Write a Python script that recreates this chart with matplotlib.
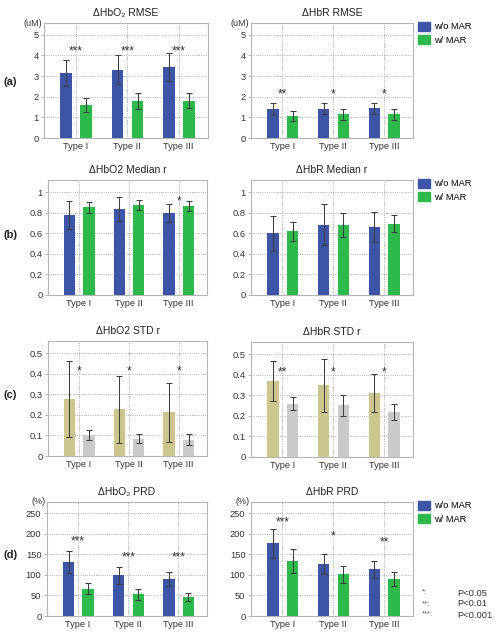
import numpy as np
import matplotlib
matplotlib.use("Agg")
import matplotlib.pyplot as plt
from matplotlib.patches import Patch

plt.rcParams['font.family'] = ['Liberation Sans', 'DejaVu Sans']

# data
types = ["Type I", "Type II", "Type III"]

hbo2_rmse_wo = [3.15, 3.30, 3.42]
hbo2_rmse_wo_err = [0.64, 0.70, 0.68]
hbo2_rmse_w = [1.60, 1.80, 1.80]
hbo2_rmse_w_err = [0.32, 0.40, 0.37]
hbr_rmse_wo = [1.40, 1.41, 1.44]
hbr_rmse_wo_err = [0.30, 0.27, 0.27]
hbr_rmse_w = [1.06, 1.14, 1.14]
hbr_rmse_w_err = [0.26, 0.25, 0.25]

hbo2_medr_wo = [0.78, 0.837, 0.80]
hbo2_medr_wo_err = [0.14, 0.115, 0.09]
hbo2_medr_w = [0.853, 0.873, 0.87]
hbo2_medr_w_err = [0.05, 0.05, 0.05]
hbr_medr_wo = [0.60, 0.684, 0.665]
hbr_medr_wo_err = [0.17, 0.20, 0.145]
hbr_medr_w = [0.62, 0.68, 0.694]
hbr_medr_w_err = [0.09, 0.12, 0.085]

hbo2_std_wo = [0.277, 0.228, 0.212]
hbo2_std_wo_err = [0.185, 0.163, 0.145]
hbo2_std_w = [0.104, 0.085, 0.080]
hbo2_std_w_err = [0.024, 0.023, 0.027]
hbr_std_wo = [0.37, 0.349, 0.31]
hbr_std_wo_err = [0.097, 0.13, 0.093]
hbr_std_w = [0.26, 0.252, 0.218]
hbr_std_w_err = [0.03, 0.05, 0.04]

hbo2_prd_wo = [132, 99, 90]
hbo2_prd_wo_err = [27, 21, 18]
hbo2_prd_w = [67, 53, 46]
hbo2_prd_w_err = [14, 13, 10]
hbr_prd_wo = [177, 127, 114]
hbr_prd_wo_err = [36, 24, 21]
hbr_prd_w = [134, 102, 90]
hbr_prd_w_err = [30, 21, 18]

# significance marks and heights
stars_a_l, stars_a_l_y = ["***", "***", "***"], [4.4, 4.4, 4.4]
stars_a_r, stars_a_r_y = ["**", "*", "*"], [2.29, 2.29, 2.29]
stars_b_l, stars_b_l_y = ["", "", "*"], [0.95, 0.95, 0.95]
stars_c_l, stars_c_l_y = ["*", "*", "*"], [0.43, 0.43, 0.43]
stars_c_r, stars_c_r_y = ["**", "*", "*"], [0.433, 0.433, 0.433]
stars_d_l, stars_d_l_y = ["***", "***", "***"], [193, 152, 152]
stars_d_r, stars_d_r_y = ["***", "*", "**"], [239, 204, 189]

BLUE = "#3c55a6"
GREEN = "#2db94b"
OLIVE = "#cbc68e"
GRAY = "#cacaca"

W, H = 500, 636
fig = plt.figure(figsize=(W / 100, H / 100), dpi=100)


def px_axes(x0, y0, x1, y1):
    return fig.add_axes([x0 / W, 1 - y1 / H, (x1 - x0) / W, (y1 - y0) / H])


def panel(ax, title, wo, wo_err, w, w_err, c1, c2, ymax, yticks, ylabels,
          stars, stars_y, unit=None, legend=False):
    x = np.arange(len(types))
    ekw = dict(ecolor="#3f3f3f", elinewidth=0.75, capsize=2.2, capthick=0.75)
    ax.bar(x - 0.19, wo, 0.23, color=c1, yerr=wo_err, error_kw=ekw, zorder=3)
    ax.bar(x + 0.2, w, 0.23, color=c2, yerr=w_err, error_kw=ekw, zorder=3)
    ax.set_xlim(-0.62, 2.57)
    ax.set_ylim(0, ymax)
    ax.set_xticks(x)
    ax.set_xticklabels(types)
    ax.set_yticks(yticks)
    ax.set_yticklabels(ylabels)
    ax.tick_params(labelsize=6.7, colors="#333333", length=2, width=0.5,
                   pad=2, color="#999999")
    ax.tick_params(axis="x", length=0, pad=3)
    ax.grid(True, linestyle=":", color="#999999", linewidth=0.6, zorder=0)
    ax.set_axisbelow(True)
    for s in ax.spines.values():
        s.set_color("#b5b5b5")
        s.set_linewidth(0.8)
    ax.set_title(title, fontsize=7.5, color="#222222", pad=5)
    fs = 8.5
    for xi, s, yi in zip(x, stars, stars_y):
        if s:
            ax.annotate(s, (xi, yi), xytext=(0, -0.6 * fs), textcoords="offset points",
                        ha="center", va="baseline", fontsize=fs, color="#333333")
    if unit:
        ax.text(-0.01, 1.0, unit, transform=ax.transAxes, ha="right",
                va="center", fontsize=6.5, color="#333333")
    if legend:
        handles = [Patch(color=c1, label="w/o MAR"), Patch(color=c2, label="w/ MAR")]
        ax.legend(handles=handles, loc="upper left", bbox_to_anchor=(1.03, 1.01),
                  frameon=False, fontsize=6.7, handlelength=1.3, handleheight=1.1,
                  handletextpad=0.4, labelspacing=0.4, borderpad=0,
                  borderaxespad=0)


t5 = [0, 1, 2, 3, 4, 5]
t1 = [0, 0.2, 0.4, 0.6, 0.8, 1.0]
t05 = [0, 0.1, 0.2, 0.3, 0.4, 0.5]
t250 = [0, 50, 100, 150, 200, 250]

ax = px_axes(44, 23, 208, 138)
panel(ax, "ΔHbO₂ RMSE", hbo2_rmse_wo, hbo2_rmse_wo_err, hbo2_rmse_w, hbo2_rmse_w_err,
      BLUE, GREEN, 5.57, t5, [str(v) for v in t5], stars_a_l, stars_a_l_y, unit="(uM)")
ax = px_axes(251, 23, 413, 138)
panel(ax, "ΔHbR RMSE", hbr_rmse_wo, hbr_rmse_wo_err, hbr_rmse_w, hbr_rmse_w_err,
      BLUE, GREEN, 5.57, t5, [str(v) for v in t5], stars_a_r, stars_a_r_y, unit="(uM)",
      legend=True)

lab1 = ["0", "0.2", "0.4", "0.6", "0.8", "1"]
ax = px_axes(48, 180, 207, 295)
panel(ax, "ΔHbO2 Median r", hbo2_medr_wo, hbo2_medr_wo_err, hbo2_medr_w, hbo2_medr_w_err,
      BLUE, GREEN, 1.12, t1, lab1, stars_b_l, stars_b_l_y)
ax = px_axes(251, 180, 413, 295)
panel(ax, "ΔHbR Median r", hbr_medr_wo, hbr_medr_wo_err, hbr_medr_w, hbr_medr_w_err,
      BLUE, GREEN, 1.12, t1, lab1, ["", "", ""], [0, 0, 0], legend=True)

lab05 = ["0", "0.1", "0.2", "0.3", "0.4", "0.5"]
ax = px_axes(48, 341, 207, 456)
panel(ax, "ΔHbO2 STD r", hbo2_std_wo, hbo2_std_wo_err, hbo2_std_w, hbo2_std_w_err,
      OLIVE, GRAY, 0.56, t05, lab05, stars_c_l, stars_c_l_y)
ax = px_axes(251, 342, 413, 457)
panel(ax, "ΔHbR STD r", hbr_std_wo, hbr_std_wo_err, hbr_std_w, hbr_std_w_err,
      OLIVE, GRAY, 0.56, t05, lab05, stars_c_r, stars_c_r_y)

ax = px_axes(47, 502, 207, 616)
panel(ax, "ΔHbO₂ PRD", hbo2_prd_wo, hbo2_prd_wo_err, hbo2_prd_w, hbo2_prd_w_err,
      BLUE, GREEN, 278, t250, [str(v) for v in t250], stars_d_l, stars_d_l_y, unit="(%)")
ax = px_axes(251, 502, 413, 616)
panel(ax, "ΔHbR PRD", hbr_prd_wo, hbr_prd_wo_err, hbr_prd_w, hbr_prd_w_err,
      BLUE, GREEN, 278, t250, [str(v) for v in t250], stars_d_r, stars_d_r_y, unit="(%)",
      legend=True)

# panel letters
for lab, yp in [("(a)", 82), ("(b)", 235), ("(c)", 395), ("(d)", 555)]:
    fig.text(4 / W, 1 - yp / H, lab, fontsize=8, fontweight="bold", ha="left",
             va="center", color="#222222")

# significance key
for k, (s, p) in enumerate([("*:", "P<0.05"), ("**:", "P<0.01"), ("***:", "P<0.001")]):
    yp = 593 + k * 11
    fig.text(422 / W, 1 - yp / H, s, fontsize=5.5, ha="left", va="center", color="#555555")
    fig.text(457 / W, 1 - yp / H, p, fontsize=6.7, ha="left", va="center", color="#333333")

fig.savefig("out.png", dpi=100)
